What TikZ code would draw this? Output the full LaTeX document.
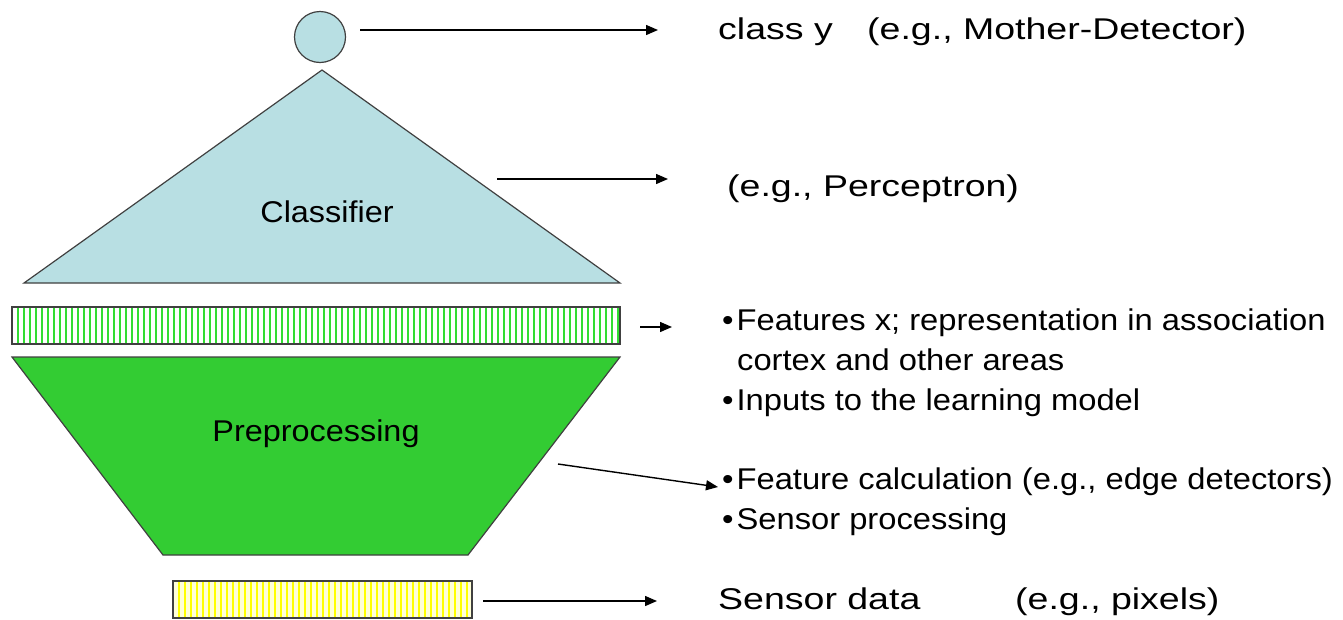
\documentclass[tikz,border=0pt]{standalone}
\usepackage{fontspec}
\setmainfont{Liberation Sans}
\newfontfamily\titlefont[FakeStretch=1.25]{Liberation Sans}
\newfontfamily\bulletfont[FakeStretch=1.09]{Liberation Sans}
\newfontfamily\shapefont[FakeStretch=1.08]{Liberation Sans}
\usetikzlibrary{arrows.meta}
\definecolor{lblue}{HTML}{B8DFE3}
\definecolor{pgreen}{HTML}{33CC33}
\definecolor{sgreen}{HTML}{33DD33}
\definecolor{syellow}{HTML}{FFFF00}
\definecolor{pyellow}{HTML}{FFFFD8}
\definecolor{edgec}{HTML}{404040}
\newcommand{\bul}{•\hspace{3pt}}
\begin{document}
\begin{tikzpicture}[x=1pt,y=-1pt,
 outl/.style={draw=edgec, line width=1.2pt},
 arr/.style={draw=black, line width=1.4pt, -{Triangle[length=12pt,width=10pt]}},
 titletext/.style={font=\titlefont\fontsize{30}{36}\selectfont, anchor=base west, inner sep=0},
 bullettext/.style={font=\bulletfont\fontsize{30}{40}\selectfont, anchor=base west, inner sep=0},
 shapelabel/.style={font=\shapefont\fontsize{30}{36}\selectfont, anchor=base, inner sep=0},
 barbox/.style={rectangle, inner sep=0, outer sep=0, anchor=north west}]
\useasboundingbox (0,0) rectangle (1343,619);

% output unit
\node[circle, outl, fill=lblue, minimum size=51pt, inner sep=0] (cls) at (320,37) {};

% classifier triangle
\coordinate (ta) at (322,70);
\coordinate (tl) at (24,283);
\coordinate (tr) at (620,283);
\draw[outl, fill=lblue] (ta) -- (tr) -- (tl) -- cycle;
\node[shapelabel] (classifier) at (327,222) {Classifier};

% features bar
\node[barbox, minimum width=608pt, minimum height=37pt, fill=white] (feat) at (12,307) {};
\foreach \i in {0,...,100} \draw[sgreen, line width=1.5pt] ({18+\i*6},307) -- ++(0,37);
\draw[outl] (feat.north west) rectangle (feat.south east);

% preprocessing trapezoid
\coordinate (pa) at (12,357);
\coordinate (pb) at (620,357);
\coordinate (pc) at (468,555);
\coordinate (pd) at (163,555);
\draw[outl, fill=pgreen] (pa) -- (pb) -- (pc) -- (pd) -- cycle;
\node[shapelabel] (preproc) at (316,441) {Preprocessing};

% sensor bar
\node[barbox, minimum width=299pt, minimum height=37pt, fill=pyellow] (sens) at (173,581) {};
\foreach \i in {0,...,48} \draw[syellow, line width=2pt] ({179+\i*6},581) -- ++(0,37);
\draw[outl] (sens.north west) rectangle (sens.south east);

% texts
\node[titletext] (ty) at (718,39) {class y};
\node[titletext] (tyeg) at (867,39) {(e.g., Mother-Detector)};
\node[titletext] (tp) at (727,196) {(e.g., Perceptron)};
\node[bullettext] (b1) at (722,330) {\bul Features x; representation in association};
\node[bullettext] (b1b) at (737,370) {cortex and other areas};
\node[bullettext] (b2) at (722,410) {\bul Inputs to the learning model};
\node[bullettext] (b3) at (722,489) {\bul Feature calculation (e.g., edge detectors)};
\node[bullettext] (b4) at (722,529) {\bul Sensor processing};
\node[titletext] (ts) at (718,609) {Sensor data};
\node[titletext] (tseg) at (1015,609) {(e.g., pixels)};

% connectors
\coordinate (a1s) at (360,30);  \coordinate (a1e) at (658,30);
\coordinate (a2s) at (497,179); \coordinate (a2e) at (668,179);
\coordinate (a3s) at (640,327); \coordinate (a3e) at (672,327);
\coordinate (a4s) at (558,464); \coordinate (a4e) at (718,487);
\coordinate (a5s) at (483,601); \coordinate (a5e) at (657,601);
\draw[arr] (a1s) -- (a1e);
\draw[arr] (a2s) -- (a2e);
\draw[arr] (a3s) -- (a3e);
\draw[arr] (a4s) -- (a4e);
\draw[arr] (a5s) -- (a5e);
\end{tikzpicture}
\end{document}
